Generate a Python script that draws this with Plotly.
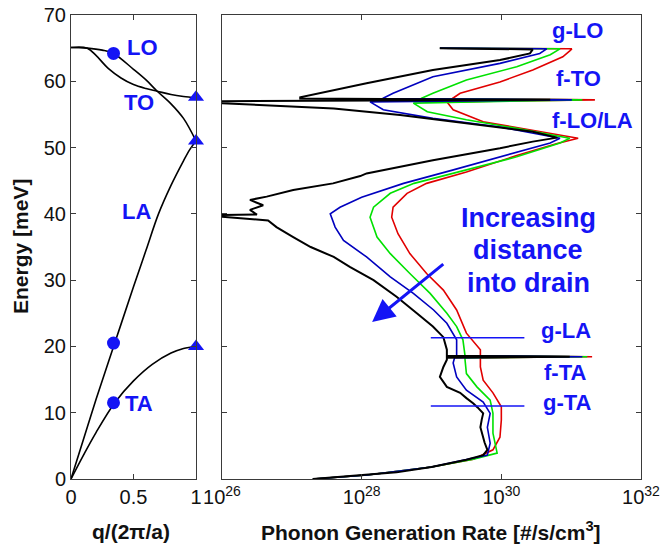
import plotly.graph_objects as go

# ---------------- Left panel: dispersion (q, E) ----------------
q_LA = [0, 0.1, 0.2, 0.35, 0.5, 0.6, 0.7, 0.8, 0.9, 0.95, 1.0]
E_LA = [0, 6.0, 12.0, 20.5, 29.0, 34.5, 40.0, 44.3, 48.0, 49.7, 51.0]
q_TA = [0, 0.1, 0.2, 0.35, 0.5, 0.65, 0.8, 0.9, 1.0]
E_TA = [0, 3.6, 7.0, 11.5, 14.8, 17.3, 19.0, 19.7, 20.0]
q_LO = [0, 0.13, 0.25, 0.34, 0.5, 0.6, 0.69, 0.8, 0.9, 1.0]
E_LO = [65.1, 65.0, 64.7, 64.2, 61.8, 60.2, 58.5, 56.6, 54.4, 51.0]
q_TO = [0, 0.13, 0.2, 0.3, 0.4, 0.5, 0.6, 0.69, 0.8, 0.9, 1.0]
E_TO = [65.1, 65.0, 63.9, 61.9, 60.5, 59.5, 58.9, 58.5, 58.0, 57.7, 57.5]
circ_q = [0.34, 0.34, 0.34]
circ_E = [64.2, 20.5, 11.5]
tri_q = [1.0, 1.0, 1.0]
tri_E = [57.6, 51.0, 20.0]

# ---------------- Right panel: generation rate (log10 rate, E) ----------------
blk_E = [0.0, 0.3, 0.6, 1.0, 1.8, 2.9, 3.6, 4.4, 5.5, 6.3, 7.8, 9.0, 9.9, 10.8, 11.4, 12.2, 13.0, 13.9,
         15.4, 16.9, 18.0, 18.3, 18.45, 18.6, 19.5, 21.4, 23.0, 25.0, 27.5, 30.0, 32.0, 33.5, 35.0, 36.5,
         38.0, 39.0, 39.6, 39.8, 39.9, 40.6, 41.3, 42.1, 42.6, 43.6, 44.6, 45.7, 46.1, 48.1, 49.9, 50.9,
         51.5, 52.4, 53.7, 54.9, 55.9, 56.4, 56.7, 57.0, 57.2, 57.4, 57.6, 59.7, 61.7, 63.2, 64.2, 64.8, 65.0]
blk_L = [27.3, 27.7, 28.08, 28.5, 29.0, 29.5, 29.74, 29.8, 29.76, 29.74, 29.7, 29.72, 29.74, 29.66, 29.6, 29.5, 29.41, 29.22,
         29.12, 29.17, 29.22, 29.22, 30.98, 29.22, 29.22, 29.17, 29.02, 28.79, 28.5, 28.17, 27.83, 27.6, 27.27, 27.02,
         26.78, 26.66, 25.95, 25.95, 26.5, 26.4, 26.59, 26.4, 26.64, 27.02, 27.59, 27.98, 28.07, 29.02, 29.98, 30.45,
         30.8, 30.45, 29.5, 28.55, 27.6, 26.64, 26.0, 25.9, 30.7, 27.12, 27.12, 28.07, 29.02, 29.98, 30.41, 30.45, 29.12]

blu_E = [0.0, 0.6, 1.8, 2.9, 3.6, 5.4, 7.8, 9.9, 11.6, 13.4, 15.4, 17.5, 18.3, 18.45, 18.6, 21.0, 23.5, 25.5,
         28.0, 30.5, 33.5, 36.0, 38.0, 40.0, 41.0, 42.5, 44.6, 46.6, 48.6, 50.7, 51.4, 53.1, 54.4, 55.7, 56.9,
         57.2, 57.4, 58.2, 60.7, 62.7, 64.2, 64.9, 65.0]
blu_L = [27.3, 28.08, 29.0, 29.5, 29.8, 29.84, 29.8, 29.84, 29.74, 29.5, 29.36, 29.31, 29.33, 31.16, 29.36, 29.36, 29.22, 29.03,
         28.74, 28.41, 28.07, 27.74, 27.62, 27.55, 27.69, 28.0, 28.6, 29.3, 29.98, 30.7, 30.84, 29.98, 29.02, 28.31, 28.12,
         31.01, 28.3, 28.45, 29.02, 29.98, 30.55, 30.65, 29.12]

grn_E = [0.0, 0.6, 1.8, 3.0, 3.9, 6.9, 9.9, 11.9, 13.9, 15.9, 18.0, 18.3, 18.45, 18.6, 21.0, 23.0, 25.0, 28.0,
         31.0, 34.0, 36.5, 39.5, 41.0, 43.1, 44.6, 46.6, 48.6, 50.7, 51.4, 52.9, 54.2, 55.4, 56.7, 57.2, 57.4,
         58.2, 60.2, 62.2, 64.0, 64.9, 65.0]
grn_L = [27.3, 28.08, 29.0, 29.6, 29.94, 29.88, 29.88, 29.84, 29.65, 29.5, 29.48, 29.48, 31.23, 29.48, 29.45, 29.36, 29.22, 28.98,
         28.69, 28.41, 28.22, 28.12, 28.17, 28.41, 28.75, 29.5, 30.22, 30.84, 30.98, 30.22, 29.5, 28.94, 28.74, 31.16, 28.85,
         29.02, 29.5, 30.22, 30.7, 30.84, 29.12]

red_E = [0.0, 0.6, 1.8, 3.0, 4.4, 6.3, 8.9, 10.9, 13.0, 14.9, 16.9, 18.3, 18.45, 18.6, 19.5, 22.0, 25.5, 28.5,
         31.0, 34.0, 37.0, 39.5, 41.0, 43.1, 44.6, 46.3, 48.8, 50.6, 51.4, 52.6, 53.9, 55.7, 56.9, 57.2, 57.4,
         58.2, 59.9, 61.7, 63.7, 64.6, 64.9, 65.0]
red_L = [27.3, 28.08, 29.0, 29.6, 29.88, 29.98, 30.0, 30.0, 29.88, 29.74, 29.7, 29.7, 31.3, 29.7, 29.7, 29.5, 29.36, 29.17,
         28.93, 28.69, 28.52, 28.43, 28.45, 28.65, 28.93, 29.5, 30.22, 30.8, 31.1, 30.45, 29.74, 29.31, 29.22, 31.34, 29.3,
         29.41, 29.98, 30.45, 30.88, 30.98, 31.01, 29.12]

gLA_L = [28.99, 30.33]
gLA_E = [21.3, 21.3]
gTA_L = [28.99, 30.33]
gTA_E = [11.0, 11.0]

right_ticks = [26, 28, 30, 32]

BLUE = "rgb(20,20,245)"
FONT = "Liberation Sans, Arial, sans-serif"
AX = "#3a3a3a"

# plot area in page pixels: x 71..641, y 15..479
def pp(x, y):
    return (x - 71) / 570.0, (479 - y) / 464.0

def to_rate(vals):
    return [10.0 ** v for v in vals]

fig = go.Figure()

for qq, ee in [(q_LA, E_LA), (q_TA, E_TA), (q_LO, E_LO), (q_TO, E_TO)]:
    fig.add_trace(go.Scatter(x=qq, y=ee, mode="lines", line=dict(color="black", width=1.6, shape="spline"),
                             xaxis="x", yaxis="y", showlegend=False, hoverinfo="skip"))
fig.add_trace(go.Scatter(x=circ_q, y=circ_E, mode="markers", marker=dict(symbol="circle", size=13, color=BLUE),
                         xaxis="x", yaxis="y", showlegend=False, cliponaxis=False))
fig.add_trace(go.Scatter(x=tri_q, y=tri_E, mode="markers", marker=dict(symbol="triangle-up", size=14, color=BLUE),
                         xaxis="x", yaxis="y", showlegend=False, cliponaxis=False))

for LL, EE, col, w in [(red_L, red_E, "rgb(225,0,0)", 1.6), (grn_L, grn_E, "rgb(0,225,0)", 1.6),
                       (blu_L, blu_E, "rgb(0,0,190)", 1.6), (blk_L, blk_E, "black", 2.0)]:
    fig.add_trace(go.Scatter(x=to_rate(LL), y=EE, mode="lines", line=dict(color=col, width=w),
                             xaxis="x2", yaxis="y2", showlegend=False, hoverinfo="skip"))

for LL, EE in [(gLA_L, gLA_E), (gTA_L, gTA_E)]:
    fig.add_trace(go.Scatter(x=to_rate(LL), y=EE, mode="lines", line=dict(color=BLUE, width=1.5),
                             xaxis="x2", yaxis="y2", showlegend=False, hoverinfo="skip"))

axis_common = dict(showline=True, linecolor=AX, linewidth=1, mirror="ticks", ticks="inside", ticklen=5,
                   tickcolor=AX, showgrid=False, zeroline=False, automargin=False,
                   ticklabeloverflow="allow",
                   tickfont=dict(family=FONT, size=20, color="#111"))

x1d, _ = pp(196, 0)
x2d, _ = pp(222, 0)

fig.update_layout(
    width=661, height=548,
    margin=dict(l=71, r=20, t=15, b=69, autoexpand=False),
    paper_bgcolor="white", plot_bgcolor="white",
    xaxis=dict(domain=[0, x1d], range=[0, 1], tickvals=[0, 0.5, 1], ticktext=["0", "0.5", "1"],
               anchor="y", **axis_common),
    yaxis=dict(domain=[0, 1], range=[0, 70], dtick=10, anchor="x", **axis_common),
    xaxis2=dict(domain=[x2d, 1], type="log", range=[26, 32], tickvals=[10.0 ** t for t in right_ticks],
                ticktext=["10<sup>%d</sup>" % t for t in right_ticks], anchor="y2", **axis_common),
    yaxis2=dict(domain=[0, 1], range=[0, 70], dtick=10, anchor="x2", showticklabels=False, **axis_common),
)

anns = []
def lab(x, y, text, size, color=BLUE, bold=True, angle=0):
    ax_, ay_ = pp(x, y)
    anns.append(dict(x=ax_, y=ay_, xref="paper", yref="paper", text=("<b>%s</b>" % text) if bold else text,
                     showarrow=False, xanchor="center", yanchor="middle", textangle=angle,
                     font=dict(family=FONT, size=size, color=color)))

lab(142, 48, "LO", 22)
lab(139, 102, "TO", 22)
lab(136, 212, "LA", 22)
lab(139, 403, "TA", 22)
lab(577, 30, "g-LO", 22)
lab(578, 78, "f-TO", 22)
lab(592, 120, "f-LO/LA", 22)
lab(566, 330, "g-LA", 22)
lab(565, 372, "f-TA", 22)
lab(567, 402, "g-TA", 22)
lab(528, 218, "Increasing", 27)
lab(528, 250, "distance", 27)
lab(528, 283, "into drain", 27)
lab(20, 247, "Energy [meV]", 21, color="#111", angle=-90)
lab(131, 531, "q/(2π/a)", 21, color="#111")
lab(431, 531, "Phonon Generation Rate [#/s/cm<sup>3</sup>]", 21, color="#111")

anns.append(dict(x=28.15, y=23.7, xref="x2", yref="y2", ax=29.19, ay=32.6, axref="x2", ayref="y2",
                 showarrow=True, arrowhead=2, arrowsize=1.5, arrowwidth=3, arrowcolor=BLUE, text=""))

fig.update_layout(annotations=anns)
fig.write_html("out.html", config={"displayModeBar": False},
               post_script="document.body.style.margin='0px';document.body.style.overflow='hidden';")
